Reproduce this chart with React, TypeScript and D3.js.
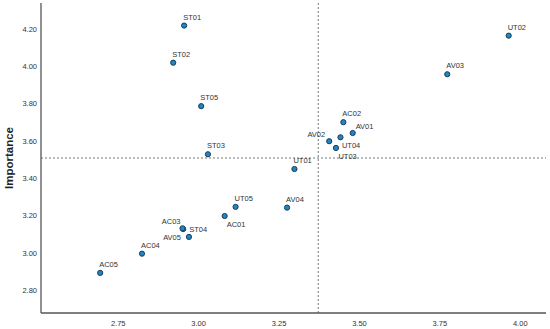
import * as d3 from "d3";
import { useEffect, useRef } from "react";

// item codes and their two scores (x = performance, y = importance)
const codes = ["ST01", "ST02", "ST03", "ST04", "ST05", "UT01", "UT02", "UT03", "UT04", "UT05",
  "AV01", "AV02", "AV03", "AV04", "AV05", "AC01", "AC02", "AC03", "AC04", "AC05"];
const performance = [2.955, 2.921, 3.029, 2.952, 3.008, 3.298, 3.964, 3.427, 3.441, 3.115,
  3.479, 3.406, 3.773, 3.275, 2.970, 3.081, 3.450, 2.950, 2.824, 2.694];
const importance = [4.219, 4.020, 3.529, 3.128, 3.787, 3.450, 4.165, 3.563, 3.620, 3.247,
  3.643, 3.599, 3.958, 3.243, 3.086, 3.198, 3.701, 3.132, 2.996, 2.893];

const xTicks = [2.75, 3.0, 3.25, 3.5, 3.75, 4.0];
const yTicks = [2.8, 3.0, 3.2, 3.4, 3.6, 3.8, 4.0, 4.2];

// reference (quadrant) lines
const xCut = 3.372;
const yCut = 3.509;

// where each label sits relative to its marker
const labelPlace: Record<string, [number, number, string]> = {
  AV01: [3, -4, "start"],
  AV02: [-4, -4, "end"],
  UT04: [1.5, 11, "start"],
  UT03: [2.5, 11.5, "start"],
  AC01: [2, 11, "start"],
  AC03: [-2, -4.5, "end"],
  ST04: [6, 2.7, "start"],
  AV05: [-8, 3.4, "end"],
};

export default function App() {
  const ref = useRef<SVGSVGElement>(null);

  useEffect(() => {
    const width = 550;
    const height = 329;
    const svg = d3.select(ref.current).attr("width", width).attr("height", height);
    svg.selectAll("*").remove();

    const x = d3.scaleLinear().domain([2.51, 4.08]).range([41, 546]);
    const y = d3.scaleLinear().domain([2.678, 4.34]).range([313, 3]);

    const font = "Arial, 'Liberation Sans', sans-serif";

    // tick labels (no tick marks)
    svg.append("g").selectAll("text")
      .data(yTicks)
      .join("text")
      .attr("x", 37)
      .attr("y", d => y(d) + 2.7)
      .attr("text-anchor", "end")
      .style("font", `7.5px ${font}`)
      .attr("fill", "#333")
      .text(d => d3.format(".2f")(d));

    svg.append("g").selectAll("text")
      .data(xTicks)
      .join("text")
      .attr("x", d => x(d))
      .attr("y", 326)
      .attr("text-anchor", "middle")
      .style("font", `7.5px ${font}`)
      .attr("fill", "#333")
      .text(d => d3.format(".2f")(d));

    // reference lines
    svg.append("line")
      .attr("x1", x(xCut)).attr("x2", x(xCut))
      .attr("y1", 3).attr("y2", 313)
      .attr("stroke", "#777").attr("stroke-width", 1).attr("stroke-dasharray", "2,2");
    svg.append("line")
      .attr("x1", 41).attr("x2", 546)
      .attr("y1", y(yCut)).attr("y2", y(yCut))
      .attr("stroke", "#777").attr("stroke-width", 1).attr("stroke-dasharray", "2,2");

    // axes lines
    svg.append("line")
      .attr("x1", 41).attr("x2", 41).attr("y1", 3).attr("y2", 313)
      .attr("stroke", "#555").attr("stroke-width", 1.3);
    svg.append("line")
      .attr("x1", 41).attr("x2", 546).attr("y1", 313).attr("y2", 313)
      .attr("stroke", "#555").attr("stroke-width", 1.3);

    // axis title
    svg.append("text")
      .attr("transform", `translate(13,158) rotate(-90)`)
      .attr("text-anchor", "middle")
      .style("font", `bold 11.5px ${font}`)
      .attr("fill", "#222")
      .text("Importance");

    // points
    svg.append("g").selectAll("circle")
      .data(codes)
      .join("circle")
      .attr("cx", (d, i) => x(performance[i]))
      .attr("cy", (d, i) => y(importance[i]))
      .attr("r", 2.6)
      .attr("fill", "#1f86c4")
      .attr("stroke", "#1b3d57")
      .attr("stroke-width", 1);

    // labels
    svg.append("g").selectAll("text")
      .data(codes)
      .join("text")
      .attr("x", (d, i) => x(performance[i]) + (labelPlace[d] ? labelPlace[d][0] : -1))
      .attr("y", (d, i) => y(importance[i]) + (labelPlace[d] ? labelPlace[d][1] : -6))
      .attr("text-anchor", d => (labelPlace[d] ? labelPlace[d][2] : "start"))
      .style("font", `7.5px ${font}`)
      .attr("fill", "#333")
      .text(d => d);
  }, []);

  return (
    <div style={{ position: "fixed", left: 0, top: 0, background: "#fff" }}>
      <svg ref={ref}></svg>
    </div>
  );
}
